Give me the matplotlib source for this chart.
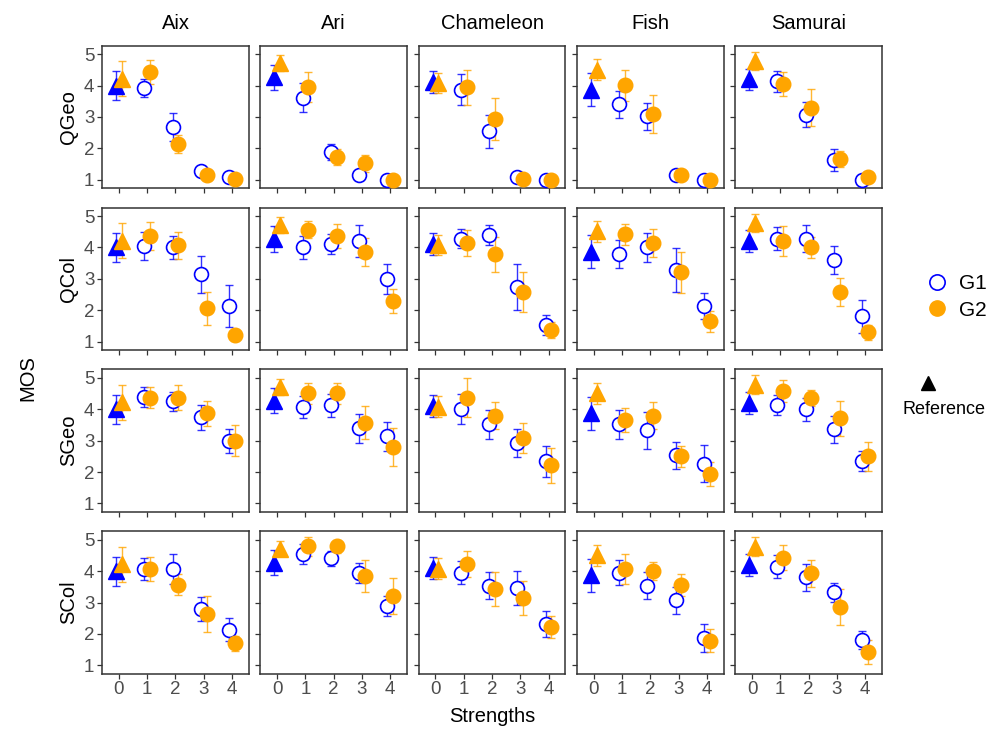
import matplotlib.pyplot as plt
import numpy as np
from matplotlib.lines import Line2D

plt.rcParams['font.family'] = ['Liberation Sans', 'DejaVu Sans']

models = ["Aix", "Ari", "Chameleon", "Fish", "Samurai"]
attributes = ["QGeo", "QCol", "SGeo", "SCol"]
strengths = [0, 1, 2, 3, 4]

# each list: one row per model, one value per strength (0 = reference)
g1_qgeo = [[4.0, 3.93, 2.67, 1.28, 1.1], [4.27, 3.61, 1.88, 1.14, 1.0], [4.1, 3.87, 2.54, 1.1, 1.0],
           [3.87, 3.4, 3.02, 1.16, 1.0], [4.2, 4.14, 3.07, 1.63, 1.0]]
g1_qgeo_err = [[0.46, 0.29, 0.45, 0.17, 0.06], [0.4, 0.46, 0.25, 0.08, 0.03], [0.35, 0.5, 0.52, 0.06, 0.03],
               [0.53, 0.42, 0.43, 0.05, 0.03], [0.34, 0.33, 0.4, 0.36, 0.03]]
g2_qgeo = [[4.22, 4.43, 2.13, 1.16, 1.01], [4.72, 3.94, 1.72, 1.52, 1.0], [4.08, 3.94, 2.93, 1.01, 1.0],
           [4.51, 4.01, 3.09, 1.16, 1.0], [4.78, 4.06, 3.29, 1.65, 1.09]]
g2_qgeo_err = [[0.55, 0.39, 0.29, 0.1, 0.05], [0.25, 0.48, 0.25, 0.27, 0.03], [0.33, 0.56, 0.66, 0.03, 0.03],
               [0.34, 0.5, 0.6, 0.06, 0.03], [0.3, 0.38, 0.59, 0.26, 0.05]]

g1_qcol = [[4.0, 4.05, 4.0, 3.14, 2.13], [4.27, 4.0, 4.12, 4.2, 3.0], [4.1, 4.28, 4.39, 2.73, 1.53],
           [3.87, 3.8, 4.0, 3.27, 2.13], [4.2, 4.28, 4.28, 3.61, 1.8]]
g1_qcol_err = [[0.46, 0.44, 0.38, 0.6, 0.67], [0.4, 0.38, 0.32, 0.51, 0.48], [0.35, 0.3, 0.32, 0.73, 0.32],
               [0.53, 0.44, 0.46, 0.7, 0.42], [0.34, 0.36, 0.44, 0.45, 0.53]]
g2_qcol = [[4.22, 4.36, 4.07, 2.06, 1.21], [4.72, 4.57, 4.36, 3.86, 2.28], [4.08, 4.14, 3.78, 2.57, 1.36],
           [4.51, 4.42, 4.14, 3.21, 1.65], [4.78, 4.21, 4.0, 2.57, 1.29]]
g2_qcol_err = [[0.55, 0.44, 0.43, 0.52, 0.2], [0.25, 0.26, 0.39, 0.45, 0.38], [0.33, 0.4, 0.55, 0.64, 0.26],
               [0.34, 0.34, 0.45, 0.66, 0.33], [0.3, 0.47, 0.34, 0.45, 0.24]]

g1_sgeo = [[4.0, 4.4, 4.26, 3.74, 3.0], [4.27, 4.08, 4.13, 3.4, 3.14], [4.1, 4.0, 3.53, 2.93, 2.34],
           [3.87, 3.53, 3.34, 2.53, 2.26], [4.2, 4.13, 4.0, 3.36, 2.34]]
g1_sgeo_err = [[0.46, 0.32, 0.3, 0.41, 0.38], [0.4, 0.36, 0.37, 0.46, 0.47], [0.35, 0.48, 0.46, 0.45, 0.5],
               [0.53, 0.46, 0.59, 0.43, 0.59], [0.34, 0.32, 0.37, 0.42, 0.32]]
g2_sgeo = [[4.22, 4.37, 4.37, 3.87, 3.0], [4.72, 4.51, 4.51, 3.58, 2.8], [4.08, 4.37, 3.8, 3.09, 2.21],
           [4.51, 3.66, 3.8, 2.5, 1.94], [4.78, 4.58, 4.37, 3.71, 2.5]]
g2_sgeo_err = [[0.55, 0.33, 0.4, 0.4, 0.5], [0.25, 0.34, 0.34, 0.53, 0.62], [0.33, 0.63, 0.42, 0.47, 0.56],
               [0.34, 0.39, 0.42, 0.34, 0.38], [0.3, 0.35, 0.26, 0.57, 0.45]]

g1_scol = [[4.0, 4.07, 4.07, 2.8, 2.14], [4.27, 4.54, 4.41, 3.95, 2.88], [4.1, 3.95, 3.53, 3.47, 2.32],
           [3.87, 3.95, 3.53, 3.07, 1.87], [4.2, 4.14, 3.8, 3.33, 1.8]]
g1_scol_err = [[0.46, 0.35, 0.49, 0.38, 0.37], [0.4, 0.32, 0.25, 0.31, 0.32], [0.35, 0.36, 0.43, 0.54, 0.42],
               [0.53, 0.4, 0.43, 0.44, 0.46], [0.34, 0.37, 0.44, 0.3, 0.29]]
g2_scol = [[4.22, 4.07, 3.57, 2.64, 1.71], [4.72, 4.79, 4.79, 3.85, 3.21], [4.08, 4.22, 3.42, 3.15, 2.21],
           [4.51, 4.07, 4.0, 3.57, 1.78], [4.78, 4.43, 3.93, 2.85, 1.43]]
g2_scol_err = [[0.55, 0.38, 0.34, 0.57, 0.24], [0.25, 0.3, 0.2, 0.5, 0.58], [0.33, 0.42, 0.54, 0.54, 0.35],
               [0.34, 0.49, 0.28, 0.35, 0.37], [0.3, 0.39, 0.43, 0.57, 0.39]]

g1_rows = [(g1_qgeo, g1_qgeo_err), (g1_qcol, g1_qcol_err), (g1_sgeo, g1_sgeo_err), (g1_scol, g1_scol_err)]
g2_rows = [(g2_qgeo, g2_qgeo_err), (g2_qcol, g2_qcol_err), (g2_sgeo, g2_sgeo_err), (g2_scol, g2_scol_err)]

BLUE = "#0000FF"
ORANGE = "#FFA500"
DODGE = 0.1


def _draw_group(ax, means, errs, color, offset, open_circle):
    xs = np.array(strengths, dtype=float) + offset
    ax.errorbar(xs, means, yerr=errs, fmt="none", ecolor=color, elinewidth=1.0,
                capsize=2.8, capthick=1.0, alpha=0.8, zorder=2)
    # reference (strength 0) is a filled triangle
    ax.plot(xs[:1], means[:1], linestyle="none", marker="^", markersize=11,
            color=color, zorder=3)
    if open_circle:
        ax.plot(xs[1:], means[1:], linestyle="none", marker="o", markersize=10,
                markerfacecolor="white", markeredgecolor=color, markeredgewidth=1.2, zorder=3)
    else:
        ax.plot(xs[1:], means[1:], linestyle="none", marker="o", markersize=10.5,
                color=color, zorder=4)


fig = plt.figure(figsize=(9.93, 7.31), dpi=100)
gs = fig.add_gridspec(4, 5, left=102 / 993, right=882 / 993, top=1 - 45.7 / 731,
                      bottom=1 - 673.5 / 731, wspace=0.077, hspace=0.139)

for r, attr in enumerate(attributes):
    g1_vals, g1_errs = g1_rows[r]
    g2_vals, g2_errs = g2_rows[r]
    for c, model in enumerate(models):
        ax = fig.add_subplot(gs[r, c])
        _draw_group(ax, g1_vals[c], g1_errs[c], BLUE, -DODGE, True)
        _draw_group(ax, g2_vals[c], g2_errs[c], ORANGE, DODGE, False)
        ax.set_xlim(-0.6, 4.6)
        ax.set_ylim(0.74, 5.27)
        ax.set_xticks(strengths)
        ax.set_yticks([1, 2, 3, 4, 5])
        ax.tick_params(length=3.5, width=0.9, color="#333333", labelcolor="#4D4D4D",
                       labelsize=13.5, pad=2)
        for sp in ax.spines.values():
            sp.set_linewidth(1.1)
            sp.set_color("#333333")
        if r == 3:
            ax.set_xticklabels([str(s) for s in strengths])
        else:
            ax.set_xticklabels([])
        if c != 0:
            ax.set_yticklabels([])
        else:
            ax.set_ylabel(attr, fontsize=14.5, labelpad=4)
        if r == 0:
            ax.set_title(model, fontsize=14.5, pad=12)

fig.text(28 / 993, 1 - 378 / 731, "MOS", rotation=90, fontsize=14.5, ha="center", va="center")
fig.text(492 / 993, 1 - 717 / 731, "Strengths", fontsize=14.5, ha="center", va="center")

handles = [
    Line2D([], [], linestyle="none", marker="o", markersize=11, markerfacecolor="white",
           markeredgecolor=BLUE, markeredgewidth=1.2),
    Line2D([], [], linestyle="none", marker="o", markersize=11, color=ORANGE),
]
fig.legend(handles, ["G1", "G2"], loc="center left", bbox_to_anchor=(903 / 993, 1 - 297 / 731),
           frameon=False, fontsize=15, handletextpad=0.3, labelspacing=0.35, handlelength=1.5)

ref_handle = [Line2D([], [], linestyle="none", marker="^", markersize=10, color="black")]
fig.legend(ref_handle, [""], loc="center", bbox_to_anchor=(928 / 993, 1 - 384 / 731),
           frameon=False, handletextpad=0, handlelength=1.2, borderpad=0)
fig.text(944 / 993, 1 - 409 / 731, "Reference", fontsize=13, ha="center", va="center")

fig.savefig("out.png", dpi=100)
